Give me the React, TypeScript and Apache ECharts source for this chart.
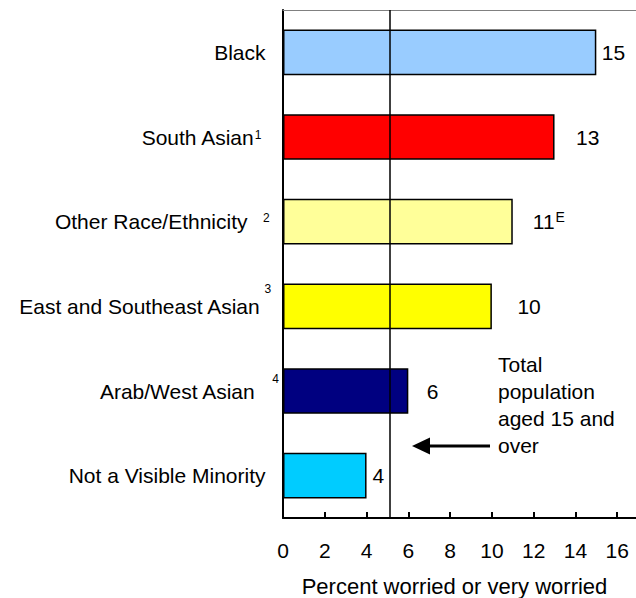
import React, { useEffect, useRef } from 'react';
import * as echarts from 'echarts';

const categories = [
  'Black',
  'South Asian',
  'Other Race/Ethnicity',
  'East and Southeast Asian',
  'Arab/West Asian',
  'Not a Visible Minority',
];
const footnotes = ['', '1', '2', '3', '4', ''];
const values = [15, 13, 11, 10, 6, 4];
const qualityFlags = ['', '', 'E', '', '', ''];
const barColors = ['#99CCFF', '#FF0000', '#FFFF99', '#FFFF00', '#000080', '#00CCFF'];
const totalPopulation = 5.1;
const axisTitle = 'Percent worried or very worried';
const annotationLines = ['Total', 'population', 'aged 15 and', 'over'];

// styling (label placement) per category
const labelGap = [5.5, 21.5, 20, 25.5, 18.5, 6];
const catLabelLayout = [
  { gap: 0, trail: 14.5, raise: 0 },
  { gap: 1, trail: 18.6, raise: 2 },
  { gap: 15.4, trail: 10.4, raise: 4 },
  { gap: 4.8, trail: 8.8, raise: 17.5 },
  { gap: 17.6, trail: 1, raise: 12 },
  { gap: 0, trail: 14.5, raise: 0 },
];

const FONT = 'Liberation Sans, Arial, sans-serif';

export default function App() {
  const ref = useRef<HTMLDivElement>(null);
  useEffect(() => {
    if (!ref.current) return;
    const chart = echarts.init(ref.current, null, { renderer: 'svg' });

    const rich: any = {};
    catLabelLayout.forEach((l, i) => {
      rich['m' + i] = {
        fontSize: 21,
        fontFamily: FONT,
        color: '#000',
        lineHeight: 48,
        verticalAlign: 'middle',
        padding: footnotes[i] ? [0, 0, 0, 0] : [0, l.trail, 0, 0],
      };
      rich['s' + i] = {
        fontSize: 12,
        fontFamily: FONT,
        color: '#000',
        verticalAlign: 'middle',
        padding: [0, l.trail, l.raise * 2, l.gap],
      };
    });

    const option: any = {
      animation: false,
      grid: {
        left: 283,
        right: 0,
        top: 10,
        bottom: 80,
        containLabel: false,
        outerBoundsMode: 'none',
      },
      xAxis: [
        {
          type: 'value',
          min: 0,
          max: 16.9,
          interval: 2,
          axisLine: { show: true, lineStyle: { color: '#000', width: 2 } },
          axisTick: { show: true, inside: true, length: 6, lineStyle: { color: '#000', width: 2 } },
          splitLine: { show: false },
          axisLabel: {
            fontSize: 21,
            fontFamily: FONT,
            color: '#000',
            margin: 22,
            showMaxLabel: false,
          },
          name: axisTitle,
          nameLocation: 'middle',
          nameGap: 57,
          nameTextStyle: { fontSize: 22, fontFamily: FONT, color: '#000', padding: [0, 10, 0, 0] },
        },
        {
          type: 'value',
          position: 'top',
          min: 0,
          max: 16.9,
          axisLine: { show: true, lineStyle: { color: '#808080', width: 1 } },
          axisTick: { show: false },
          axisLabel: { show: false },
          splitLine: { show: false },
        },
      ],
      yAxis: {
        type: 'category',
        inverse: true,
        data: categories,
        axisLine: { show: true, lineStyle: { color: '#000', width: 2 } },
        axisTick: { show: false },
        axisLabel: {
          interval: 0,
          margin: 3,
          rich,
          formatter: (value: string) => {
            const i = categories.indexOf(value);
            const fn = footnotes[i];
            return fn ? `{m${i}|${value}}{s${i}|${fn}}` : `{m${i}|${value}}`;
          },
        },
      },
      series: [
        {
          type: 'bar',
          xAxisIndex: 0,
          barCategoryGap: '46%',
          data: values.map((v, i) => ({
            value: v,
            itemStyle: { color: barColors[i], borderColor: '#000', borderWidth: 1.5 },
            label: { distance: labelGap[i] },
          })),
          label: {
            show: true,
            position: 'right',
            formatter: (p: any) =>
              qualityFlags[p.dataIndex]
                ? `{v|${p.value}}{e|${qualityFlags[p.dataIndex]}}`
                : `{v|${p.value}}`,
            rich: {
              v: { fontSize: 21, fontFamily: FONT, color: '#000', verticalAlign: 'middle', lineHeight: 26 },
              e: { fontSize: 14, fontFamily: FONT, color: '#000', verticalAlign: 'middle', padding: [0, 0, 9, 1] },
            },
          },
          markLine: {
            silent: true,
            symbol: ['none', 'none'],
            label: { show: false },
            lineStyle: { color: '#000', width: 1.5, type: 'solid' },
            data: [{ xAxis: totalPopulation }],
          },
        },
      ],
      graphic: [
        {
          type: 'text',
          left: 498,
          top: 351,
          style: {
            text: annotationLines.join('\n'),
            font: `21px ${FONT}`,
            fill: '#000',
            lineHeight: 27,
          },
        },
        {
          type: 'line',
          shape: { x1: 428, y1: 446, x2: 490, y2: 446 },
          style: { stroke: '#000', lineWidth: 3 },
        },
        {
          type: 'polygon',
          shape: { points: [[412, 446], [430, 437.5], [430, 454.5]] },
          style: { fill: '#000' },
        },
      ],
    };
    chart.setOption(option);
    return () => chart.dispose();
  }, []);
  return (
    <div
      ref={ref}
      style={{ position: 'absolute', left: 0, top: 0, width: 636, height: 598, background: '#fff' }}
    />
  );
}
